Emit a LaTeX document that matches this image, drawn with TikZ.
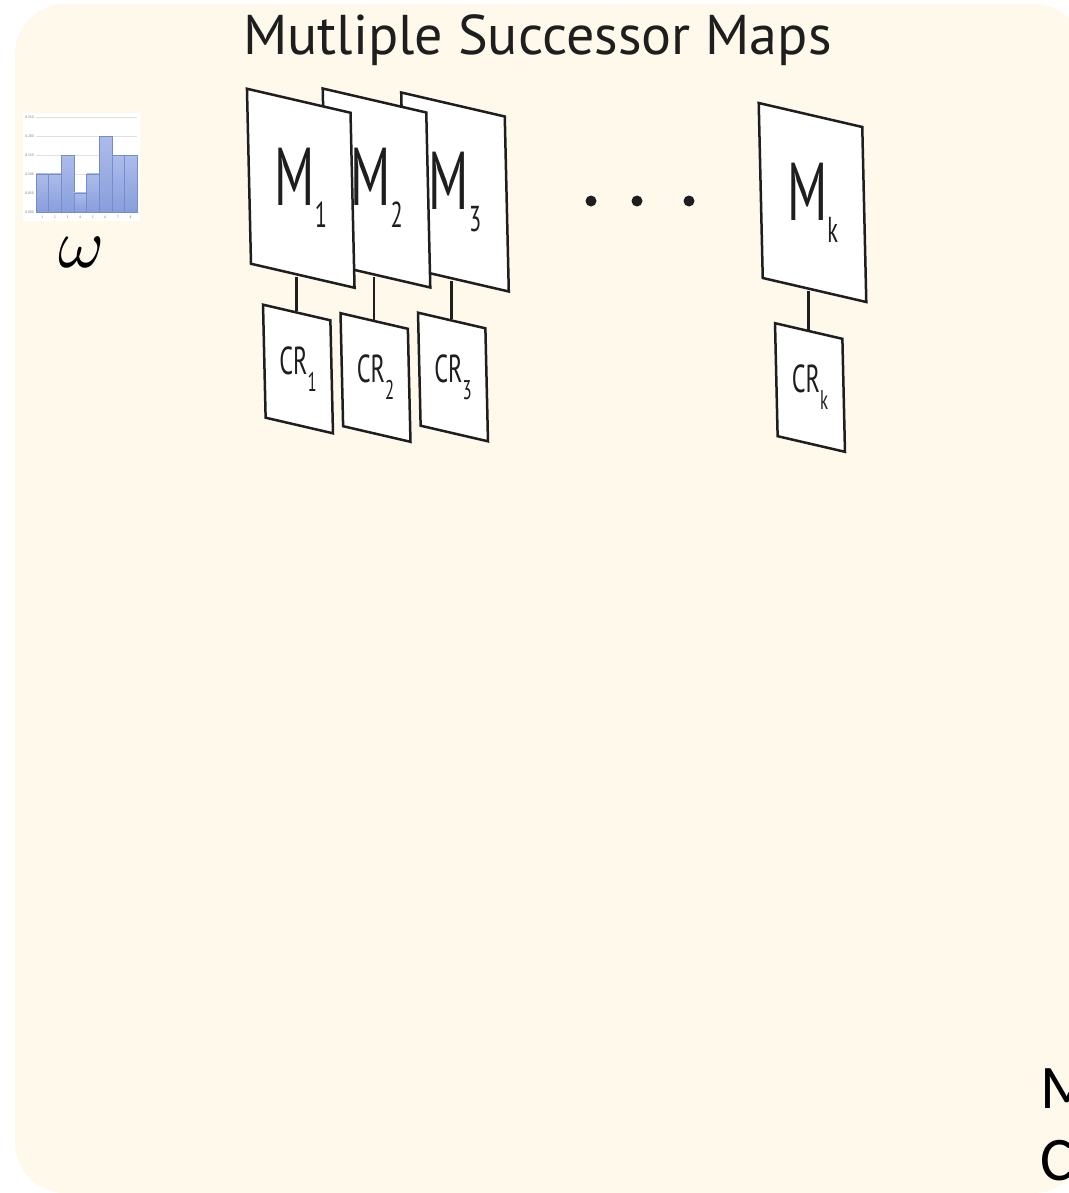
\documentclass[tikz,border=0pt]{standalone}
\usepackage{fontspec}
\setmainfont{PT Sans}
\newfontfamily\notefont{Carlito}
\usetikzlibrary{positioning}

\definecolor{panelbg}{RGB}{255,249,236}
\definecolor{barblue}{RGB}{136,158,220}
\definecolor{barlight}{RGB}{172,188,234}
\definecolor{baredge}{RGB}{118,140,205}
\definecolor{inkgray}{RGB}{30,30,30}

% condensed letters, as in the map and reward labels
\newcommand{\narrow}[1]{\scalebox{0.62}[1]{#1}}
\newcommand{\mname}[1]{\narrow{M}\raisebox{-22pt}{\fontsize{36}{36}\selectfont\narrow{#1}}}
\newcommand{\crname}[1]{\narrow{CR}\raisebox{-17pt}{\fontsize{27}{27}\selectfont\narrow{#1}}}

\begin{document}
\begin{tikzpicture}[
    x=1pt, y=-1pt,
    panel/.style={fill=panelbg, rounded corners=50pt},
    mapbox/.style={rectangle, draw=inkgray, fill=white, line width=2.5pt, minimum width=103pt, minimum height=175pt, inner sep=0pt, xslant=-0.023, yslant=-0.233, transform shape},
    crbox/.style={mapbox, minimum width=67pt, minimum height=113pt},
    maplabel/.style={font=\fontsize{82}{82}\selectfont, text=inkgray, inner sep=0pt},
    crlabel/.style={font=\fontsize{39}{39}\selectfont, text=inkgray, inner sep=0pt},
    titletext/.style={font=\fontsize{56}{56}\selectfont, text=inkgray, inner sep=0pt},
    notetext/.style={font=\notefont\fontsize{62}{62}\selectfont, inner sep=0pt},
    link/.style={draw=inkgray, line width=2.5pt},
    dot/.style={circle, fill=inkgray, minimum size=11pt, inner sep=0pt},
    gridline/.style={draw=black!12, line width=0.5pt},
    ticklabel/.style={font=\fontsize{3.5}{3.5}\selectfont, text=black!55, inner sep=0pt}
]
\useasboundingbox (0,0) rectangle (1068,1193);

% Panel
\fill[panel] (15,4) rectangle (1084,1193);

% Title
\node[titletext, anchor=base] (title) at (537.5,55) {Mutliple Successor Maps};

% Weight histogram
\fill[white] (23,113) rectangle (140,221);
\foreach \g/\t in {0/0.000,1/0.050,2/0.100,3/0.150,4/0.200,5/0.250} {
    \draw[gridline] (36,{212-\g*19}) -- (137,{212-\g*19});
    \node[ticklabel, anchor=east] (tick\g) at (34,{212-\g*19}) {\t};
}
\foreach \v [count=\i] in {0.10,0.10,0.15,0.05,0.10,0.20,0.15,0.15} {
    \shade[top color=barlight, bottom color=barblue, draw=baredge, line width=0.5pt]
        ({36+(\i-1)*12.625},212) rectangle ({36+\i*12.625},{212-\v*380});
    \node[ticklabel] (bin\i) at ({42.3+(\i-1)*12.625},217) {\i};
}
\node[inner sep=0pt] (omega) at (82,252) {\scalebox{7}{$\omega$}};

% Successor maps, back to front
\node[mapbox] (m3) at (455,192) {};
\node[maplabel] (m3txt) at (m3.center) {\mname{3}};
\node[mapbox] (m2) at (376.5,188) {};
\node[maplabel] (m2txt) at (m2.center) {\mname{2}};
\node[mapbox] (m1) at (300.75,188.25) {};
\node[maplabel] (m1txt) at (m1.center) {\mname{1}};
\node[mapbox] (mk) at (812.5,202.5) {};
\node[maplabel] (mktxt) at (mk.center) {\mname{k}};

% Rewards
\node[crbox] (cr1) at (298,369) {};
\node[crlabel] (cr1txt) at (cr1.center) {\crname{1}};
\node[crbox] (cr2) at (375.5,377.5) {};
\node[crlabel] (cr2txt) at (cr2.center) {\crname{2}};
\node[crbox] (cr3) at (453,377) {};
\node[crlabel] (cr3txt) at (cr3.center) {\crname{3}};
\node[crbox] (crk) at (810,387.5) {};
\node[crlabel] (crktxt) at (crk.center) {\crname{k}};

% Ellipsis
\node[dot] (dot1) at (591,201) {};
\node[dot] (dot2) at (637,201) {};
\node[dot] (dot3) at (689,201) {};

% Cut-off caption
\node[notetext, anchor=base west] (notem) at (1040,1108) {M};
\node[notetext, anchor=base west] (notec) at (1040,1180) {C};

% Links
\draw[link] (cr1.north) -- (cr1.north |- m1.south);
\draw[link] (cr2.north) -- (cr2.north |- m2.south);
\draw[link] (cr3.north) -- (cr3.north |- m3.south);
\draw[link] (crk.north) -- (crk.north |- mk.south);

\end{tikzpicture}
\end{document}
